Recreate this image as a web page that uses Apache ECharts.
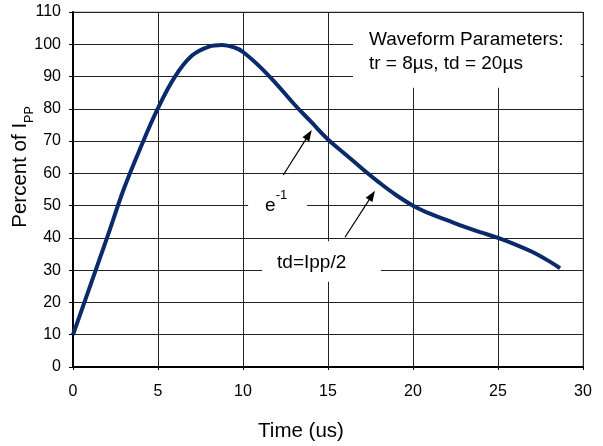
<!DOCTYPE html>
<html>
<head>
<meta charset="utf-8">
<script src="https://cdn.jsdelivr.net/npm/echarts@6/dist/echarts.min.js"></script>
<style>
html,body{margin:0;padding:0;background:#fff;}
#chart{width:603px;height:446px;}
</style>
</head>
<body>
<div id="chart"></div>
<script>
// ---- data ----
const timeUs = [0, 1, 2, 3, 4, 5, 6, 7, 8, 8.75, 9.5, 10, 11, 12, 13, 14, 15, 16, 17, 18, 19, 20, 21, 22, 23, 24, 25, 26, 27, 28, 28.65];
const percentIpp = [10, 25, 40, 55.3, 68.3, 80.2, 90, 96.5, 99.3, 99.8, 99, 97.6, 93, 87.5, 81.5, 76, 70.5, 66, 61.5, 57.2, 53.3, 50, 47.5, 45.5, 43.5, 41.7, 40, 38, 35.7, 32.8, 30.6];
const xTicks = [0, 5, 10, 15, 20, 25, 30];
const yTicks = [0, 10, 20, 30, 40, 50, 60, 70, 80, 90, 100, 110];

// annotation boxes [x1, y1, x2, y2] in data units
const boxWave = [16.47, 109.7, 29.87, 86.5];
const boxE = [10.3, 57, 13.77, 43];
const boxTd = [11.12, 39, 18.11, 26.4];
// arrows [fromX, fromY, toX, toY]
const arrowE = [12.37, 59.5, 13.87, 72.0];
const arrowTd = [16.0, 40.2, 17.59, 53.2];
// text anchors (data units)
const waveLine1Pos = [17.41, 101.5];
const waveLine2Pos = [17.41, 94.1];
const eTextPos = [11.95, 49.9];
const tdTextPos = [14.04, 32.3];
const waveLine1 = 'Waveform Parameters:';
const waveLine2 = 'tr = 8\u00b5s, td = 20\u00b5s';

const FONT = '"Liberation Sans", Arial, Helvetica, sans-serif';
const chart = echarts.init(document.getElementById('chart'));

const option = {
  animation: false,
  backgroundColor: '#fff',
  grid: {left: 73, right: 20, top: 12, bottom: 79, containLabel: false, outerBoundsMode: 'none',
    show: true, borderColor: '#999', borderWidth: 1, backgroundColor: 'transparent'},
  xAxis: {
    type: 'value', min: xTicks[0], max: xTicks[xTicks.length - 1], interval: 5,
    axisLine: {show: true, onZero: false, lineStyle: {color: '#000', width: 2}},
    axisTick: {show: true, length: 3, lineStyle: {color: '#000', width: 1}},
    splitLine: {show: true, lineStyle: {color: '#222', width: 1}},
    axisLabel: {margin: 17, fontSize: 16, color: '#000', fontFamily: FONT},
    name: 'Time (us)', nameLocation: 'middle', nameGap: 54, nameMoveOverlap: false,
    nameTextStyle: {fontSize: 20.5, color: '#000', fontFamily: FONT, padding: [0, 54, 0, 0]}
  },
  yAxis: {
    type: 'value', min: yTicks[0], max: yTicks[yTicks.length - 1], interval: 10,
    axisLine: {show: true, onZero: false, lineStyle: {color: '#000', width: 2}},
    axisTick: {show: true, length: 4, lineStyle: {color: '#000', width: 1}},
    splitLine: {show: true, lineStyle: {color: '#222', width: 1}},
    axisLabel: {margin: 12, fontSize: 16, color: '#000', fontFamily: FONT},
    name: 'Percent of I{sub|PP}', nameLocation: 'middle', nameRotate: 90, nameGap: 36.5, nameMoveOverlap: false,
    nameTextStyle: {
      fontSize: 20.5, lineHeight: 20, color: '#000', fontFamily: FONT, padding: [0, 0, 0, 45],
      rich: {sub: {fontSize: 12.5, lineHeight: 33, verticalAlign: 'bottom', color: '#000', fontFamily: FONT}}
    }
  },
  series: [{
    type: 'line',
    data: timeUs.map((t, i) => [t, percentIpp[i]]),
    smooth: 0.4,
    symbol: 'none',
    lineStyle: {color: '#0a2a6b', width: 4},
    z: 3,
    markArea: {
      silent: true,
      itemStyle: {color: '#fff', borderWidth: 0},
      label: {show: false},
      data: [boxWave, boxE, boxTd].map(b => [{coord: [b[0], b[1]]}, {coord: [b[2], b[3]]}])
    },
    markLine: {
      silent: true,
      symbol: ['none', 'triangle'],
      symbolSize: [8, 11],
      lineStyle: {color: '#000', width: 1.2, type: 'solid'},
      label: {show: false},
      data: [arrowE, arrowTd].map(a => [{coord: [a[0], a[1]]}, {coord: [a[2], a[3]]}])
    },
    markPoint: {
      silent: true,
      symbol: 'circle',
      symbolSize: 0,
      itemStyle: {color: 'transparent'},
      data: [
        {coord: eTextPos, label: {show: true, position: 'inside', formatter: 'e{sup|-1}',
          fontSize: 19, lineHeight: 34, color: '#000', fontFamily: FONT,
          rich: {sup: {fontSize: 13, lineHeight: 14, verticalAlign: 'top', color: '#000', fontFamily: FONT}}}},
        {coord: tdTextPos, label: {show: true, position: 'inside', formatter: 'td=Ipp/2',
          fontSize: 19, color: '#000', fontFamily: FONT}}
      ]
    }
  }]
};
chart.setOption(option);

// waveform-parameter text placed from data coordinates through the grid's own conversion
const p1 = chart.convertToPixel({gridIndex: 0}, waveLine1Pos);
const p2 = chart.convertToPixel({gridIndex: 0}, waveLine2Pos);
chart.setOption({
  graphic: [
    {type: 'text', x: p1[0], y: p1[1], z: 10, silent: true,
      style: {text: waveLine1, fill: '#000', font: '19px ' + FONT, textAlign: 'left', textVerticalAlign: 'middle', verticalAlign: 'middle'}},
    {type: 'text', x: p2[0], y: p2[1], z: 10, silent: true,
      style: {text: waveLine2, fill: '#000', font: '19px ' + FONT, textAlign: 'left', textVerticalAlign: 'middle', verticalAlign: 'middle'}}
  ]
});
</script>
</body>
</html>
